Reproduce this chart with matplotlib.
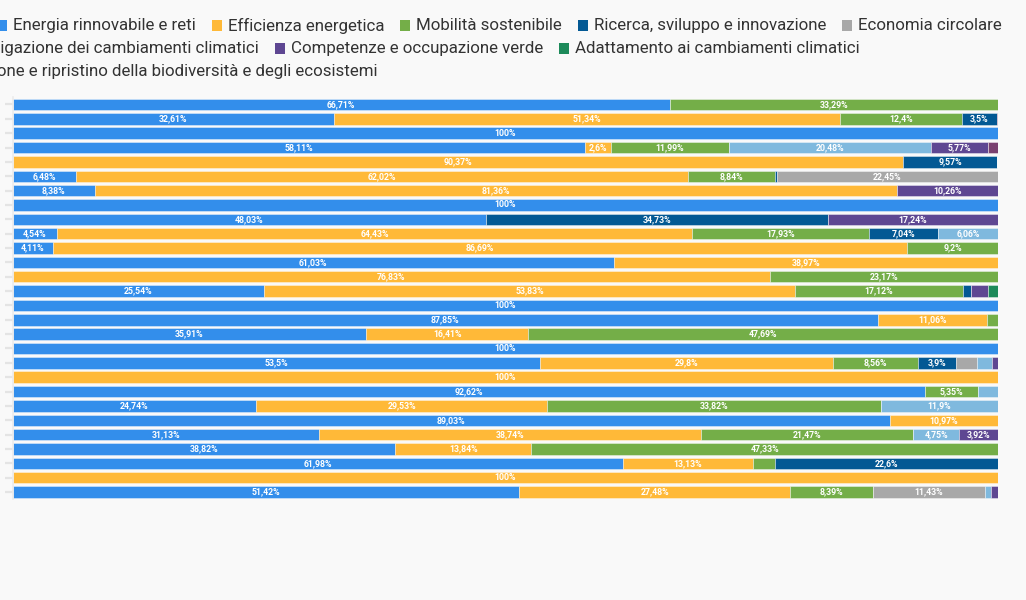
import numpy as np
import matplotlib
matplotlib.use("Agg")
import matplotlib.pyplot as plt
from matplotlib.patches import Rectangle

# ── Data (share % per row, 28 rows, top to bottom) ───────────────────────────
series_names = [
    "Energia rinnovabile e reti",
    "Efficienza energetica",
    "Mobilità sostenibile",
    "Ricerca, sviluppo e innovazione",
    "Economia circolare",
    "Mitigazione dei cambiamenti climatici",
    "Competenze e occupazione verde",
    "Adattamento ai cambiamenti climatici",
    "Protezione e ripristino della biodiversità e degli ecosistemi",
]
colors = ["#338eeb", "#ffb938", "#74ae48", "#035994", "#a8a8a8",
          "#7fb9de", "#5e4792", "#1d8a5a", "#7a4170"]

energia     = [66.71, 32.61, 100, 58.11, 0, 6.48, 8.38, 100, 48.03, 4.54, 4.11, 61.03, 0, 25.54,
               100, 87.85, 35.91, 100, 53.5, 0, 92.62, 24.74, 89.03, 31.13, 38.82, 61.98, 0, 51.42]
efficienza  = [0, 51.34, 0, 2.6, 90.37, 62.02, 81.36, 0, 0, 64.43, 86.69, 38.97, 76.83, 53.83,
               0, 11.06, 16.41, 0, 29.8, 100, 0, 29.53, 10.97, 38.74, 13.84, 13.13, 100, 27.48]
mobilita    = [33.29, 12.4, 0, 11.99, 0, 8.84, 0, 0, 0, 17.93, 9.2, 0, 23.17, 17.12,
               0, 1.09, 47.69, 0, 8.56, 0, 5.35, 33.82, 0, 21.47, 47.33, 2.29, 0, 8.39]
ricerca     = [0, 3.5, 0, 0, 9.57, 0.21, 0, 0, 34.73, 7.04, 0, 0, 0, 0.74,
               0, 0, 0, 0, 3.9, 0, 0, 0, 0, 0, 0, 22.6, 0, 0]
circolare   = [0, 0, 0, 0, 0, 22.45, 0, 0, 0, 0, 0, 0, 0, 0,
               0, 0, 0, 0, 2.1, 0, 0, 0, 0, 0, 0, 0, 0, 11.43]
mitigazione = [0, 0, 0, 20.48, 0, 0, 0, 0, 0, 6.06, 0, 0, 0, 0,
               0, 0, 0, 0, 1.55, 0, 2.03, 11.9, 0, 4.75, 0, 0, 0, 0.55]
competenze  = [0, 0, 0, 5.77, 0, 0, 10.26, 0, 17.24, 0, 0, 0, 0, 1.8,
               0, 0, 0, 0, 0.59, 0, 0, 0, 0, 3.92, 0, 0, 0, 0.73]
adattamento = [0, 0, 0, 0, 0, 0, 0, 0, 0, 0, 0, 0, 0, 0.97,
               0, 0, 0, 0, 0, 0, 0, 0, 0, 0, 0, 0, 0, 0]
biodiversita = [0, 0.15, 0, 1.05, 0, 0, 0, 0, 0, 0, 0, 0, 0, 0,
                0, 0, 0, 0, 0, 0, 0, 0, 0, 0, 0, 0, 0, 0]

all_series = [energia, efficienza, mobilita, ricerca, circolare,
              mitigazione, competenze, adattamento, biodiversita]

LABEL_MIN = 2.5   # segments narrower than this get no label


def fmt(v):
    return f"{v:g}".replace(".", ",") + "%"


# ── Figure ───────────────────────────────────────────────────────────────────
BG = "#f9f9f9"
W, H = 1026, 600
fig = plt.figure(figsize=(W / 100, H / 100), dpi=100)
fig.patch.set_facecolor(BG)
ax = fig.add_axes([12.5 / W, 1 - 499.2 / H, (998 - 12.5) / W, (499.2 - 97.3) / H])
ax.set_facecolor(BG)

rows = np.arange(len(energia))
left = np.zeros(len(rows))
for vals, col in zip(all_series, colors):
    vals = np.array(vals, dtype=float)
    bars = ax.barh(rows, vals, left=left, height=0.8, color=col,
                   edgecolor=(1, 1, 1, 0.45), linewidth=0.6)
    ax.bar_label(bars, labels=[fmt(v) if v >= LABEL_MIN else "" for v in vals],
                 label_type="center", color="white", fontsize=6.3,
                 fontweight="bold", family="Roboto")
    left += vals

ax.set_xlim(0, 100)
ax.set_ylim(len(rows) - 0.5, -0.5)
ax.set_xticks([])
ax.set_yticks(rows)
ax.set_yticklabels([])
ax.tick_params(axis="y", length=6, width=1.6, color="#e4e4e4", pad=2)
for side in ("top", "right", "bottom"):
    ax.spines[side].set_visible(False)
ax.spines["left"].set_color("#ebebeb")
ax.spines["left"].set_linewidth(1.2)

# ── Legend (manual, wraps over three lines and runs off the left edge) ───────
LEG_FS = 12.2
TXT = "#333333"
SQ = 10       # marker size in px
GAP = 6       # marker -> text
SEP = 16      # text -> next marker
legend_lines = [
    (series_names[0:5], 1002, 25.5),
    (series_names[5:8], 860, 48.5),
    (series_names[8:9], 377, 71.5),
]
fig.canvas.draw()
renderer = fig.canvas.get_renderer()
for names, right_px, y_px in legend_lines:
    x = right_px
    for name in reversed(names):
        col = colors[series_names.index(name)]
        t = fig.text(x / W, 1 - y_px / H, name, ha="right", va="center",
                     fontsize=LEG_FS, color=TXT, family="Roboto")
        tw = t.get_window_extent(renderer).width
        mx = x - tw - GAP - SQ
        fig.patches.append(Rectangle((mx / W, 1 - (y_px + SQ / 2) / H), SQ / W, SQ / H,
                                     transform=fig.transFigure, facecolor=col,
                                     edgecolor="none"))
        x = mx - SEP

fig.savefig("out.png", dpi=100, facecolor=fig.get_facecolor())
